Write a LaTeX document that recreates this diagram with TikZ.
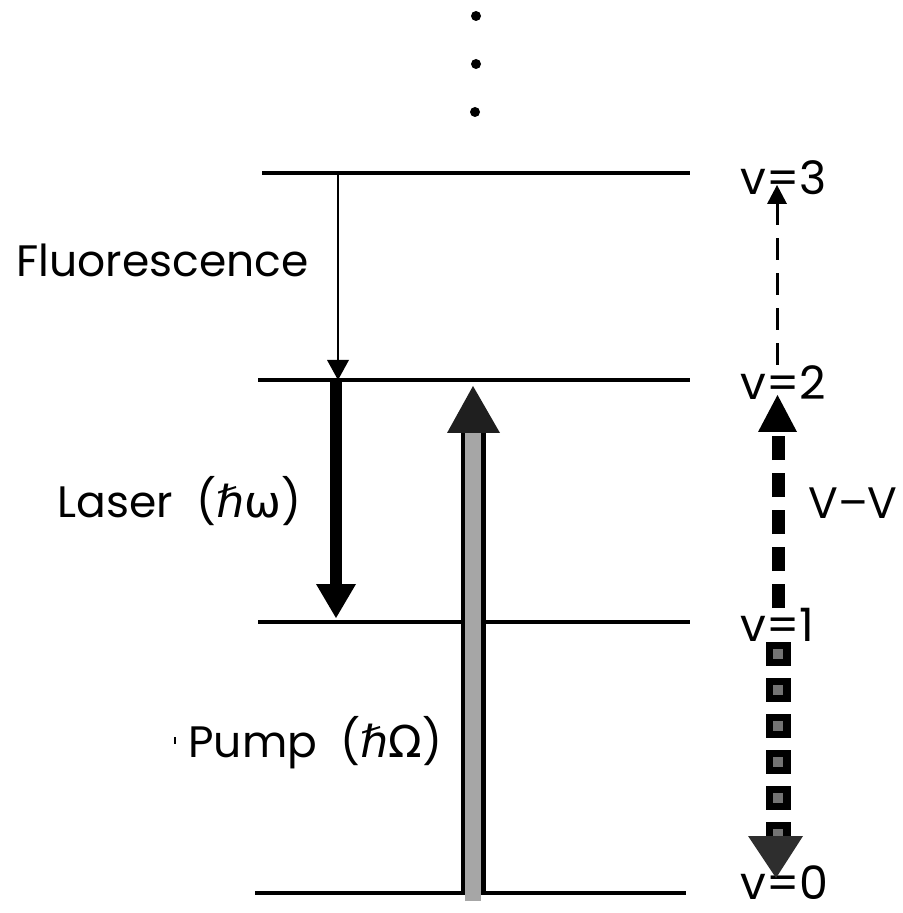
\documentclass[tikz,border=0pt]{standalone}
\usepackage{fontspec}
\setmainfont{Poppins}
\newfontfamily\dv{DejaVu Sans}
\begin{document}
\begin{tikzpicture}[x=0.5pt,y=-0.5pt,
  level/.style={line width=2pt},
  lbl/.style={font=\fontsize{23}{27}\selectfont, anchor=west, inner sep=0pt},
  txt/.style={font=\fontsize{22}{26}\selectfont, anchor=base west, inner sep=0pt},
  tip/.style={fill=black, draw=none},
  thinshaft/.style={line width=1pt},
  lasershaft/.style={line width=6pt},
  pumpouter/.style={line width=12.5pt, black},
  pumpinner/.style={line width=8pt, black!35},
  vvthin/.style={line width=1.5pt, dash pattern=on 11pt off 6.5pt},
  vvthick/.style={line width=6.5pt, dash pattern=on 12pt off 6.5pt},
  sqouter/.style={line width=12.5pt, dash pattern=on 12pt off 6pt, black},
  sqinner/.style={line width=5pt, dash pattern=on 5pt off 13pt, dash phase=14.5pt, black!55},
  dot/.style={circle, fill=black, inner sep=0pt, minimum size=5pt},
]
\useasboundingbox (0,0) rectangle (902,913);

% continuation dots
\node[dot] (d1) at (476,16) {};
\node[dot] (d2) at (476,64) {};
\node[dot] (d3) at (475,112) {};

% levels
\coordinate (L3a) at (262,173); \coordinate (L3b) at (690,173);
\coordinate (L2a) at (258,380); \coordinate (L2b) at (690,380);
\coordinate (L1a) at (258,622); \coordinate (L1b) at (690,622);
\coordinate (L0a) at (255,893); \coordinate (L0b) at (686,893);
\draw[level] (L3a) -- (L3b);
\draw[level] (L2a) -- (L2b);
\draw[level] (L1a) -- (L1b);
\draw[level] (L0a) -- (L0b);

% level labels
\node[lbl] (v3) at (740,178) {v=3};
\node[lbl] (v2) at (740,383) {v=2};
\node[lbl] (v1) at (740,625) {v=1};
\node[lbl] (v0) at (740,883) {v=0};

% texts
\node[txt] (tfl) at (16,277) {Fluorescence};
\node[txt] (tla) at (57,517) {Laser\ \ ({\dv ℏω})};
\node[txt] (tpu) at (188,757) {Pump\ \ ({\dv ℏΩ})};
\node[txt] (tvv) at (808,518) {V–V};
\draw[line width=0.6pt] (175,737) -- (175,744);

% fluorescence arrow
\coordinate (fS) at (338,173); \coordinate (fE) at (338,362); \coordinate (fT) at (338,380);
\draw[thinshaft] (fS) -- (fE);
\fill[tip] (327,360) -- (349,360) -- (fT) -- cycle;

% laser arrow
\coordinate (lS) at (336,380); \coordinate (lE) at (336,586); \coordinate (lT) at (336,618);
\draw[lasershaft] (lS) -- (lE);
\fill[tip] (316,584) -- (356,584) -- (lT) -- cycle;

% pump arrow
\coordinate (pS) at (473,893); \coordinate (pE) at (473,432); \coordinate (pT) at (473,386);
\draw[pumpouter] (pS) -- (pE);
\draw[pumpinner] ([yshift=-4pt]pS) -- ([yshift=2pt]pE);
\fill[tip, fill=black!88] (447,433) -- (500,433) -- (pT) -- cycle;

% V-V thin dashed (v=2 -> v=3)
\coordinate (a2) at (777,365); \coordinate (a3) at (777,203); \coordinate (a3t) at (777,185);
\draw[vvthin] (a2) -- (a3);
\fill[tip] (767,204) -- (787,204) -- (a3t) -- cycle;

% V-V thick dashed (v=1 -> v=2)
\coordinate (b1) at (778,608); \coordinate (b2) at (778,436); \coordinate (b2t) at (777.5,395);
\draw[vvthick] (b1) -- (b2);
\fill[tip] (758,432) -- (797,432) -- (b2t) -- cycle;

% squares (v=1 -> v=0)
\coordinate (c1) at (778,642); \coordinate (c0) at (778,840); \coordinate (c0t) at (776,878);
\draw[sqouter] (c1) -- (c0);
\draw[sqinner] (c1) -- (c0);
\fill[tip, fill=black!82] (748,836) -- (803,836) -- (c0t) -- cycle;
\end{tikzpicture}
\end{document}
